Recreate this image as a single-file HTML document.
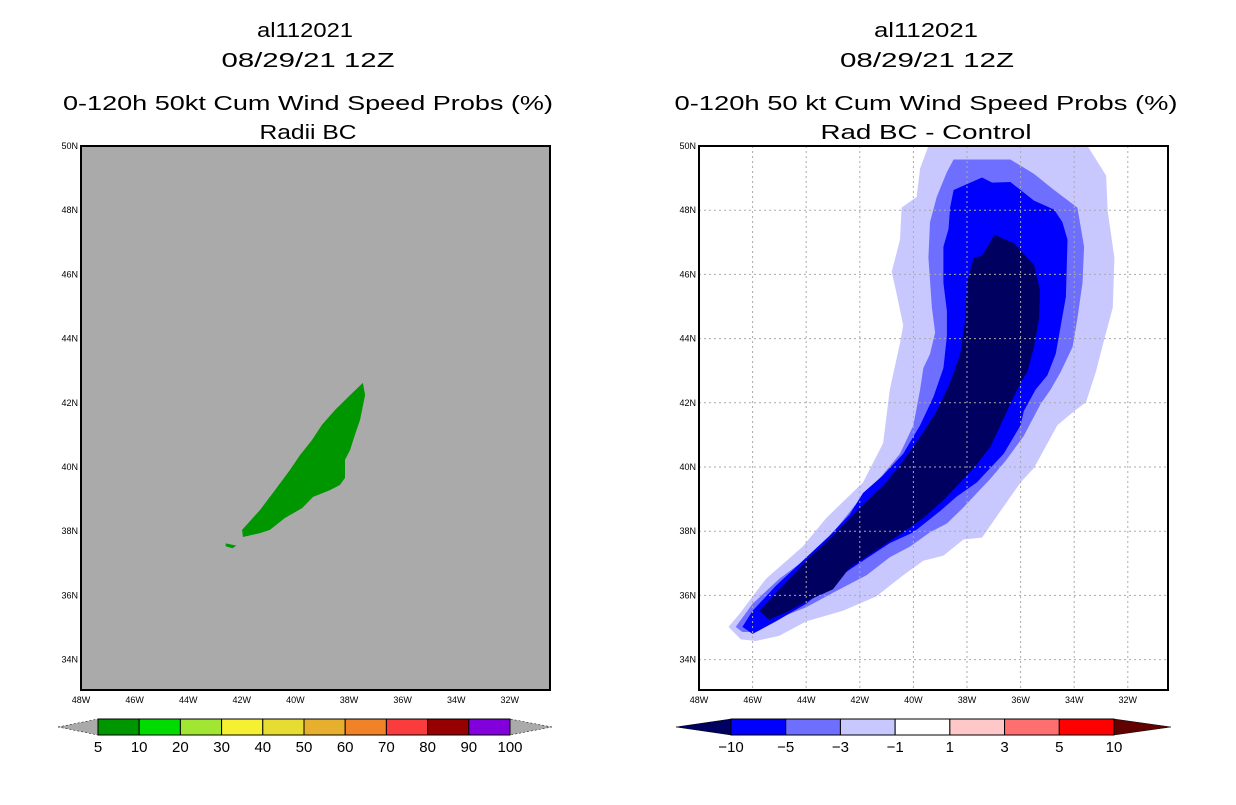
<!DOCTYPE html>
<html><head><meta charset="utf-8"><style>
body{margin:0;background:#fff;}
svg text{font-family:"Liberation Sans",sans-serif;}
</style></head><body>
<svg id="chart" width="1236" height="800" xmlns="http://www.w3.org/2000/svg">
<rect width="1236" height="800" fill="#fff"/>
<g font-size="20" text-anchor="middle" fill="#000">
<text x="305" y="37" textLength="96" lengthAdjust="spacingAndGlyphs">al112021</text>
<text x="308" y="67" textLength="173" lengthAdjust="spacingAndGlyphs">08/29/21 12Z</text>
<text x="308" y="110" textLength="490" lengthAdjust="spacingAndGlyphs">0-120h 50kt Cum Wind Speed Probs (%)</text>
<text x="308" y="139" textLength="97" lengthAdjust="spacingAndGlyphs">Radii BC</text>
</g>
<g font-size="20" text-anchor="middle" fill="#000">
<text x="926" y="37" textLength="104" lengthAdjust="spacingAndGlyphs">al112021</text>
<text x="927" y="67" textLength="174" lengthAdjust="spacingAndGlyphs">08/29/21 12Z</text>
<text x="926" y="110" textLength="503" lengthAdjust="spacingAndGlyphs">0-120h 50 kt Cum Wind Speed Probs (%)</text>
<text x="926" y="139" textLength="211" lengthAdjust="spacingAndGlyphs">Rad BC - Control</text>
</g>
<g id="left"></g>
<g id="right"></g>
<g id="cbars"></g>
</svg>
<script>
const lonTicks=[-48,-46,-44,-42,-40,-38,-36,-34,-32];
const latTicks=[50,48,46,44,42,40,38,36,34];
const leftBounds=[98,510];
const probLevels=["5","10","20","30","40","50","60","70","80","90","100"];
const probColors=["#009600","#00dc00","#a0e632","#f5f032","#e6dc32","#e6af2d","#f08228","#fa3c3c","#960000","#8200dc"];
const diffLevels=["-10","-5","-3","-1","1","3","5","10"];
const diffColors=["#000060","#0000ff","#6f6fff","#c8c8ff","#ffffff","#ffc8c8","#ff6f6f","#ff0000","#600000"];
const greenMain=[[-37.48,42.62],[-37.4,42.24],[-37.59,41.46],[-37.78,41.0],[-37.96,40.53],[-38.15,40.22],[-38.15,39.66],[-38.34,39.44],[-38.71,39.28],[-39.34,39.07],[-39.75,38.72],[-40.39,38.41],[-40.95,38.04],[-41.32,37.94],[-41.96,37.82],[-41.99,38.04],[-41.32,38.66],[-40.76,39.28],[-40.2,39.91],[-39.83,40.37],[-39.38,40.84],[-39.01,41.31],[-38.52,41.78],[-37.96,42.24]];
const greenBlob=[[-42.6,37.62],[-42.2,37.55],[-42.35,37.47],[-42.6,37.53]];
const diffM1=[[-39.44,50],[-33.5,50],[-32.81,49.08],[-32.75,47.97],[-32.5,46.52],[-32.56,44.97],[-32.88,43.97],[-33.19,42.97],[-33.56,42.02],[-34.0,41.74],[-34.63,41.3],[-35.5,39.97],[-36.0,39.52],[-36.75,38.63],[-37.44,37.8],[-38.13,37.74],[-38.88,37.24],[-39.63,37.08],[-40.38,36.63],[-41.38,35.97],[-42.63,35.52],[-44.0,35.19],[-45.0,34.74],[-45.88,34.58],[-46.44,34.63],[-46.9,35.02],[-46.5,35.41],[-45.5,36.52],[-44.13,37.52],[-43.25,38.41],[-41.88,39.52],[-41.13,40.74],[-40.88,42.41],[-40.5,43.86],[-40.38,44.41],[-40.63,45.41],[-40.81,46.08],[-40.5,47.08],[-40.44,48.08],[-39.88,48.41],[-39.75,49.3]];
const diffM3=[[-38.5,49.58],[-36.38,49.58],[-35.5,49.13],[-34.75,48.63],[-33.88,48.08],[-33.63,46.86],[-33.69,45.74],[-33.88,44.63],[-34.06,43.74],[-34.5,42.97],[-34.88,42.41],[-35.25,41.97],[-35.88,40.97],[-36.56,40.19],[-37.13,39.63],[-37.63,39.19],[-38.13,38.74],[-38.75,38.24],[-39.38,37.97],[-40.13,37.52],[-40.88,37.19],[-41.75,36.63],[-43.0,36.08],[-44.0,35.63],[-45.0,35.3],[-45.88,34.86],[-46.38,34.86],[-46.63,35.02],[-46.0,35.74],[-45.0,36.52],[-43.75,37.3],[-42.88,38.08],[-42.13,38.86],[-41.38,39.52],[-40.5,40.41],[-40.0,41.3],[-39.75,42.41],[-39.63,43.08],[-39.38,43.52],[-39.19,44.19],[-39.31,44.97],[-39.44,46.52],[-39.38,47.63],[-39.13,48.41],[-38.75,49.19]];
const diffM5=[[-38.5,48.63],[-37.44,49.02],[-37.06,48.86],[-36.38,48.88],[-35.5,48.3],[-34.75,48.02],[-34.44,47.63],[-34.25,47.08],[-34.31,45.3],[-34.5,44.41],[-34.69,43.52],[-35.0,42.86],[-35.44,42.41],[-35.88,41.74],[-36.0,41.3],[-36.63,40.41],[-37.13,39.97],[-37.63,39.52],[-38.38,39.08],[-39.0,38.63],[-40.0,37.97],[-40.88,37.63],[-41.88,37.08],[-42.88,36.52],[-44.0,35.74],[-45.13,35.19],[-46.0,34.8],[-46.38,35.02],[-46.0,35.52],[-45.13,36.3],[-44.13,37.08],[-43.13,37.86],[-42.38,38.52],[-41.88,39.19],[-41.13,39.74],[-40.38,40.41],[-39.75,41.3],[-39.25,42.19],[-38.88,43.08],[-38.75,44.08],[-38.75,44.86],[-38.88,45.74],[-38.88,46.86],[-38.69,47.41],[-38.63,48.08]];
const diffM10=[[-36.98,47.24],[-36.25,46.97],[-35.5,46.3],[-35.28,45.52],[-35.31,44.63],[-35.5,43.74],[-35.75,42.97],[-36.0,42.63],[-36.38,41.97],[-36.75,41.3],[-37.13,40.63],[-37.63,40.08],[-38.25,39.52],[-38.88,38.97],[-39.63,38.41],[-40.38,37.97],[-41.38,37.41],[-42.38,36.86],[-43.0,36.19],[-43.88,35.86],[-44.75,35.47],[-45.38,35.24],[-45.75,35.52],[-44.63,36.52],[-43.88,37.19],[-43.0,37.86],[-42.13,38.63],[-41.13,39.41],[-40.38,40.19],[-39.63,41.08],[-39.13,41.74],[-38.63,42.63],[-38.25,43.52],[-38.06,44.63],[-38.0,45.74],[-37.75,46.52],[-37.44,46.58],[-37.13,47.02]];

const NS="http://www.w3.org/2000/svg";
function mk(tag,attrs,parent){const e=document.createElementNS(NS,tag);for(const k in attrs)e.setAttribute(k,attrs[k]);parent.appendChild(e);return e;}
const X0=81,Y0=146,W=469,H=544,LON0=-48,LAT0=50,PXD=26.8,PYD=32.1;
function xs(off){return lon=>off+X0+(lon-LON0)*PXD;}
function ys(lat){return Y0+(LAT0-lat)*PYD;}
function pts(arr,sx){return arr.map(p=>sx(p[0]).toFixed(1)+","+ys(p[1]).toFixed(1)).join(" ");}

function panel(g,off,bg){
  const sx=xs(off);
  const cp=mk("clipPath",{id:"cp"+off},g);
  mk("rect",{x:X0+off,y:Y0,width:W,height:H},cp);
  const bgr=mk("rect",{x:X0+off,y:Y0,width:W,height:H,fill:bg},g);
  
  
  const inner=mk("g",{"clip-path":"url(#cp"+off+")"},g);
  return {sx,inner};
}
function axes(g,off,grid,sx,inner){
  lonTicks.forEach(l=>{
    const x=sx(l);
    if(grid&&l>-48){const ln=mk("line",{x1:x,y1:Y0,x2:x,y2:Y0+H,stroke:"#aaa","stroke-dasharray":"2,3"},inner);
      }
    const t=mk("text",{x:x,y:Y0+H+13,"font-size":"9","text-anchor":"middle"},g);t.textContent=(-l)+"W";
    
  });
  latTicks.forEach(l=>{
    const y=ys(l);
    if(grid&&l<50){const ln=mk("line",{x1:X0+off,y1:y,x2:X0+off+W,y2:y,stroke:"#aaa","stroke-dasharray":"2,3"},inner);
      }
    const t=mk("text",{x:X0+off-3,y:y+3,"font-size":"9","text-anchor":"end"},g);t.textContent=l+"N";
    
  });
  const fr=mk("rect",{x:X0+off,y:Y0,width:W,height:H,fill:"none",stroke:"#000","stroke-width":"2"},g);
  
}
const L=document.getElementById("left");
let p=panel(L,0,"#aaaaaa");
[greenMain,greenBlob].forEach(a=>{const e=mk("polygon",{points:pts(a,p.sx),fill:"#009600"},p.inner);
  });
axes(L,0,false,p.sx,p.inner);
const R=document.getElementById("right");
p=panel(R,618,"#ffffff");
[[diffM1,"#c8c8ff","diff-contour-minus1"],[diffM3,"#6f6fff","diff-contour-minus3"],[diffM5,"#0000ff","diff-contour-minus5"],[diffM10,"#000060","diff-contour-minus10"]].forEach(c=>{
  const e=mk("polygon",{points:pts(c[0],p.sx),fill:c[1]},p.inner);
  });
axes(R,618,true,p.sx,p.inner);

const C=document.getElementById("cbars");
function cbar(x0,x1,tipL,tipR,colors,labels,lcol,rcol,name){
  const g=mk("g",{},C);
  
  const y0=719,y1=735,ym=727,n=colors.length,w=(x1-x0)/n;
  mk("polygon",{points:`${tipL},${ym} ${x0},${y0} ${x0},${y1}`,fill:lcol,stroke:"#000","stroke-width":"0.5","stroke-dasharray":lcol=="#aaaaaa"?"2,2":"none"},g);
  mk("polygon",{points:`${tipR},${ym} ${x1},${y0} ${x1},${y1}`,fill:rcol,stroke:"#000","stroke-width":"0.5","stroke-dasharray":rcol=="#aaaaaa"?"2,2":"none"},g);
  colors.forEach((c,i)=>{const r=mk("rect",{x:x0+i*w,y:y0,width:w,height:y1-y0,fill:c,stroke:"#000","stroke-width":"1"},g);
    });
  labels.forEach((s,i)=>{const t=mk("text",{x:x0+i*w,y:752,"font-size":"15","text-anchor":"middle"},g);t.textContent=s.replace("-","\u2212");
    });
}
cbar(leftBounds[0],leftBounds[1],58,552,probColors,probLevels,"#aaaaaa","#aaaaaa","left-colorbar");
cbar(731,1114,676,1171,diffColors.slice(1,8),diffLevels,diffColors[0],diffColors[8],"right-colorbar");
</script>
</body></html>
